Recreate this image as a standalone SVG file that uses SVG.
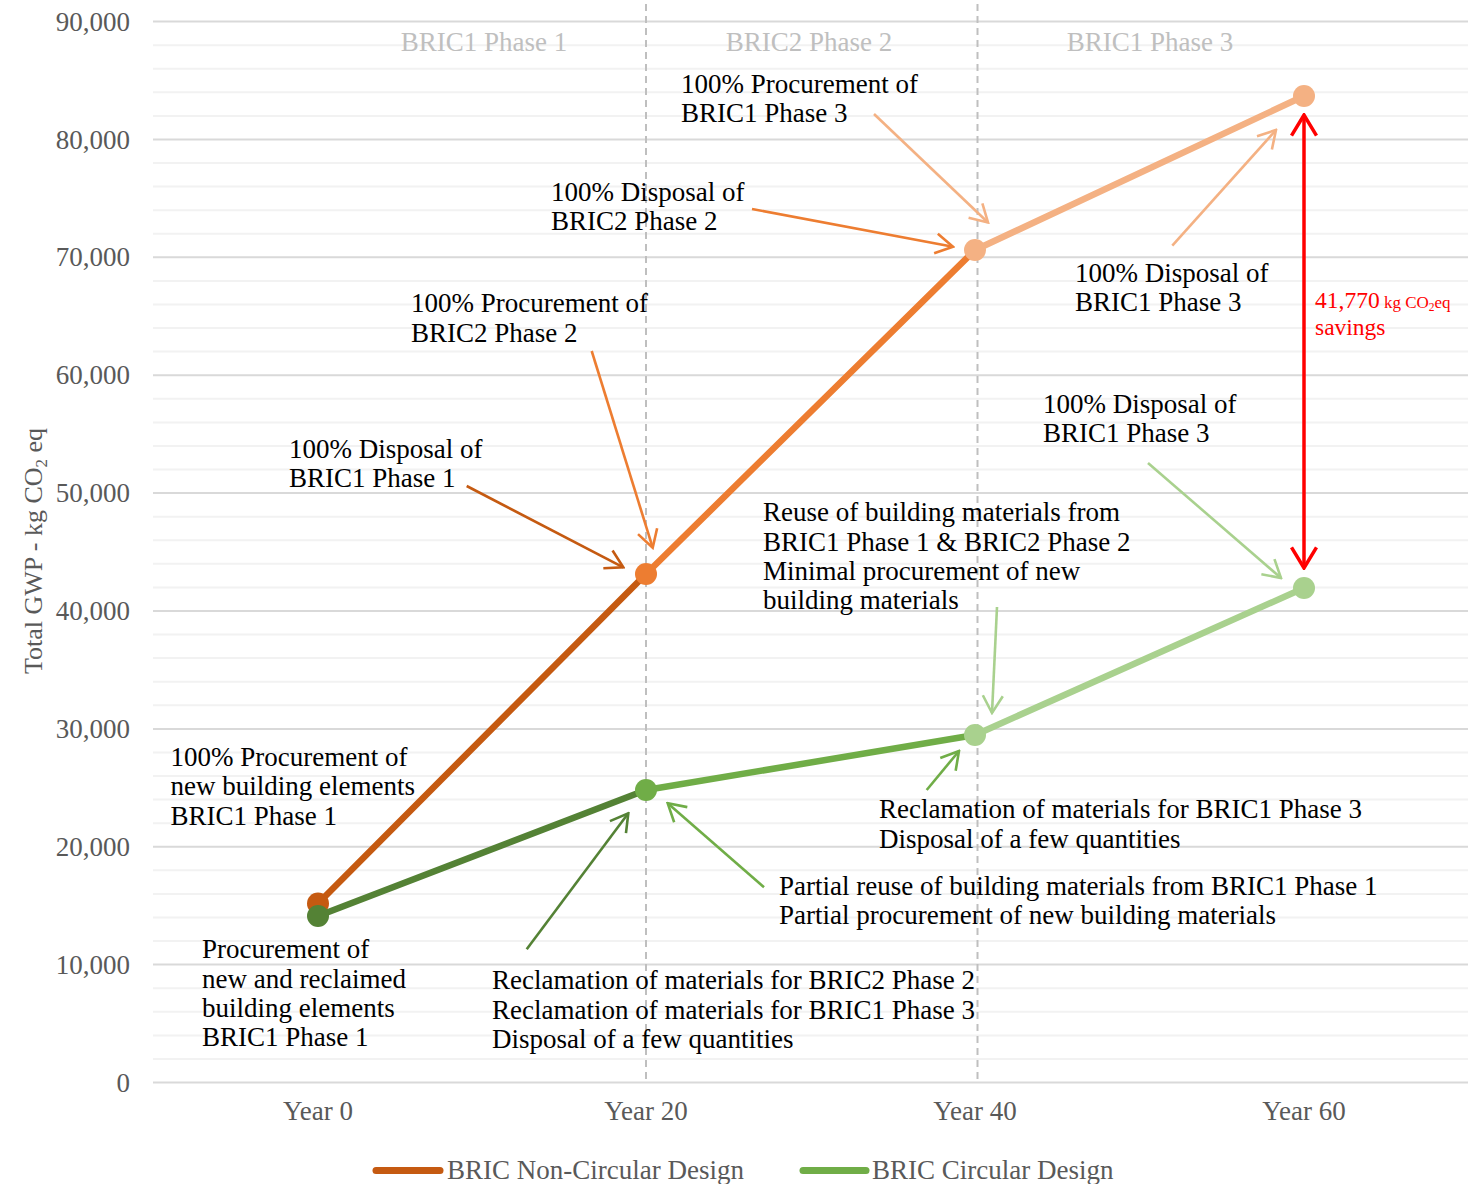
<svg xmlns="http://www.w3.org/2000/svg" width="1468" height="1184" viewBox="0 0 1468 1184">
<style>
text{font-family:"Liberation Serif","Times New Roman",serif;}
.tick{font-size:27px;fill:#595959;text-anchor:end;}
.xl{font-size:27px;fill:#595959;text-anchor:middle;}
.phase{font-size:27px;fill:#BFBFBF;text-anchor:middle;}
.ann{font-size:27px;fill:#000;}
.leg{font-size:27px;fill:#595959;}
.red{font-size:23.5px;fill:#FF0000;}
.conn{fill:none;stroke-width:2.6;}
.ser{fill:none;stroke-width:6.5;stroke-linecap:round;}
</style>
<defs>
<marker id="a-do" markerUnits="userSpaceOnUse" viewBox="-20 -12 22 24" refX="0" refY="0" markerWidth="22" markerHeight="24" orient="auto"><path d="M-17.3,-10 L0,0 L-17.3,10" fill="none" stroke="#C55A11" stroke-width="2.6"/></marker>
<marker id="a-o" markerUnits="userSpaceOnUse" viewBox="-20 -12 22 24" refX="0" refY="0" markerWidth="22" markerHeight="24" orient="auto"><path d="M-17.3,-10 L0,0 L-17.3,10" fill="none" stroke="#ED7D31" stroke-width="2.6"/></marker>
<marker id="a-lo" markerUnits="userSpaceOnUse" viewBox="-20 -12 22 24" refX="0" refY="0" markerWidth="22" markerHeight="24" orient="auto"><path d="M-17.3,-10 L0,0 L-17.3,10" fill="none" stroke="#F4B183" stroke-width="2.6"/></marker>
<marker id="a-dg" markerUnits="userSpaceOnUse" viewBox="-20 -12 22 24" refX="0" refY="0" markerWidth="22" markerHeight="24" orient="auto"><path d="M-17.3,-10 L0,0 L-17.3,10" fill="none" stroke="#548235" stroke-width="2.6"/></marker>
<marker id="a-g" markerUnits="userSpaceOnUse" viewBox="-20 -12 22 24" refX="0" refY="0" markerWidth="22" markerHeight="24" orient="auto"><path d="M-17.3,-10 L0,0 L-17.3,10" fill="none" stroke="#70AD47" stroke-width="2.6"/></marker>
<marker id="a-lg" markerUnits="userSpaceOnUse" viewBox="-20 -12 22 24" refX="0" refY="0" markerWidth="22" markerHeight="24" orient="auto"><path d="M-17.3,-10 L0,0 L-17.3,10" fill="none" stroke="#A9D18E" stroke-width="2.6"/></marker>
<marker id="a-r" markerUnits="userSpaceOnUse" viewBox="-24 -14 26 28" refX="0" refY="0" markerWidth="26" markerHeight="28" orient="auto-start-reverse"><path d="M-20.7,-12.5 L0,0 L-20.7,12.5" fill="none" stroke="#FF0000" stroke-width="3.5"/></marker>
</defs>
<rect width="1468" height="1184" fill="#fff"/>
<g id="grid">
<path stroke="#F2F2F2" stroke-width="2" fill="none" d="M153,1058.9H1468M153,1035.4H1468M153,1011.8H1468M153,988.2H1468M153,941H1468M153,917.5H1468M153,893.9H1468M153,870.3H1468M153,823.2H1468M153,799.6H1468M153,776H1468M153,752.4H1468M153,705.3H1468M153,681.7H1468M153,658.1H1468M153,634.6H1468M153,587.4H1468M153,563.8H1468M153,540.3H1468M153,516.7H1468M153,469.5H1468M153,446H1468M153,422.4H1468M153,398.8H1468M153,351.6H1468M153,328.1H1468M153,304.5H1468M153,280.9H1468M153,233.8H1468M153,210.2H1468M153,186.6H1468M153,163H1468M153,115.9H1468M153,92.3H1468M153,68.7H1468M153,45.2H1468"/>
<path stroke="#D9D9D9" stroke-width="2" fill="none" d="M153,1082.5H1468M153,964.6H1468M153,846.7H1468M153,728.9H1468M153,611H1468M153,493.1H1468M153,375.2H1468M153,257.3H1468M153,139.5H1468M153,21.6H1468"/>
<path stroke="#BFBFBF" stroke-width="2" stroke-dasharray="7,5" fill="none" d="M646,4V1084M977.5,4V1084"/>
</g>
<g id="axes">
<text class="tick" x="130" y="1091.5">0</text>
<text class="tick" x="130" y="973.6">10,000</text>
<text class="tick" x="130" y="855.7">20,000</text>
<text class="tick" x="130" y="737.9">30,000</text>
<text class="tick" x="130" y="620">40,000</text>
<text class="tick" x="130" y="502.1">50,000</text>
<text class="tick" x="130" y="384.2">60,000</text>
<text class="tick" x="130" y="266.3">70,000</text>
<text class="tick" x="130" y="148.5">80,000</text>
<text class="tick" x="130" y="30.6">90,000</text>
<text class="xl" x="318" y="1120">Year 0</text>
<text class="xl" x="646" y="1120">Year 20</text>
<text class="xl" x="975" y="1120">Year 40</text>
<text class="xl" x="1304" y="1120">Year 60</text>
<text transform="translate(42,551) rotate(-90)" style="font-size:26px;fill:#595959;text-anchor:middle">Total GWP - kg CO<tspan font-size="17" dy="5">2</tspan><tspan dy="-5"> eq</tspan></text>
<text class="phase" x="484" y="51">BRIC1 Phase 1</text>
<text class="phase" x="809" y="51">BRIC2 Phase 2</text>
<text class="phase" x="1150" y="51">BRIC1 Phase 3</text>
</g>
<g id="connectors">
<line class="conn" stroke="#F4B183" x1="874" y1="114" x2="988" y2="222.5" marker-end="url(#a-lo)"/>
<line class="conn" stroke="#ED7D31" x1="752" y1="209" x2="953" y2="246.7" marker-end="url(#a-o)"/>
<line class="conn" stroke="#F4B183" x1="1172.3" y1="245.7" x2="1276" y2="130" marker-end="url(#a-lo)"/>
<line class="conn" stroke="#ED7D31" x1="591.7" y1="351" x2="652.7" y2="547.7" marker-end="url(#a-o)"/>
<line class="conn" stroke="#C55A11" x1="466.7" y1="486" x2="623.3" y2="567.3" marker-end="url(#a-do)"/>
<line class="conn" stroke="#A9D18E" x1="1148" y1="463" x2="1281" y2="578" marker-end="url(#a-lg)"/>
<line class="conn" stroke="#A9D18E" x1="997" y1="607" x2="992" y2="713" marker-end="url(#a-lg)"/>
<line class="conn" stroke="#70AD47" x1="926.7" y1="790" x2="959" y2="751" marker-end="url(#a-g)"/>
<line class="conn" stroke="#70AD47" x1="764" y1="887.3" x2="667.7" y2="803.3" marker-end="url(#a-g)"/>
<line class="conn" stroke="#548235" x1="526.7" y1="949.3" x2="628.3" y2="813.3" marker-end="url(#a-dg)"/>
<line stroke="#FF0000" stroke-width="3.5" x1="1304" y1="115" x2="1304" y2="568" marker-start="url(#a-r)" marker-end="url(#a-r)"/>
</g>
<g id="series-noncircular">
<line class="ser" stroke="#C55A11" x1="318" y1="903.5" x2="646" y2="574"/>
<line class="ser" stroke="#ED7D31" x1="646" y1="574" x2="975" y2="250"/>
<line class="ser" stroke="#F4B183" x1="975" y1="250" x2="1304" y2="96"/>
<circle cx="318" cy="903.5" r="11" fill="#C55A11"/>
<circle cx="646" cy="574" r="11" fill="#ED7D31"/>
<circle cx="975" cy="250" r="11" fill="#F4B183"/>
<circle cx="1304" cy="96" r="11" fill="#F4B183"/>
</g>
<g id="series-circular">
<line class="ser" stroke="#548235" x1="318" y1="916" x2="646" y2="790"/>
<line class="ser" stroke="#70AD47" x1="646" y1="790" x2="975" y2="735"/>
<line class="ser" stroke="#A9D18E" x1="975" y1="735" x2="1304" y2="588"/>
<circle cx="318" cy="916" r="11" fill="#548235"/>
<circle cx="646" cy="790" r="11" fill="#70AD47"/>
<circle cx="975" cy="735" r="11" fill="#A9D18E"/>
<circle cx="1304" cy="588" r="11" fill="#A9D18E"/>
</g>
<g id="ann-proc-bric1-ph3"><text class="ann" x="681" y="92.5">100% Procurement of<tspan x="681" y="122">BRIC1 Phase 3</tspan></text></g>
<g id="ann-disp-bric2-ph2"><text class="ann" x="551" y="200.5">100% Disposal of<tspan x="551" y="230">BRIC2 Phase 2</tspan></text></g>
<g id="ann-disp-bric1-ph3-upper"><text class="ann" x="1075" y="281.5">100% Disposal of<tspan x="1075" y="310.7">BRIC1 Phase 3</tspan></text></g>
<g id="ann-proc-bric2-ph2"><text class="ann" x="411" y="312.3">100% Procurement of<tspan x="411" y="341.7">BRIC2 Phase 2</tspan></text></g>
<g id="ann-disp-bric1-ph1"><text class="ann" x="289" y="457.7">100% Disposal of<tspan x="289" y="486.7">BRIC1 Phase 1</tspan></text></g>
<g id="ann-disp-bric1-ph3-lower"><text class="ann" x="1043" y="413">100% Disposal of<tspan x="1043" y="442">BRIC1 Phase 3</tspan></text></g>
<g id="ann-reuse"><text class="ann" x="763" y="521">Reuse of building materials from<tspan x="763" y="550.5">BRIC1 Phase 1 &amp; BRIC2 Phase 2</tspan><tspan x="763" y="580">Minimal procurement of new</tspan><tspan x="763" y="609">building materials</tspan></text></g>
<g id="ann-proc-new"><text class="ann" x="170.5" y="765.7">100% Procurement of<tspan x="170.5" y="795">new building elements</tspan><tspan x="170.5" y="825">BRIC1 Phase 1</tspan></text></g>
<g id="ann-reclaim-right"><text class="ann" x="879" y="817.7">Reclamation of materials for BRIC1 Phase 3<tspan x="879" y="848">Disposal of a few quantities</tspan></text></g>
<g id="ann-partial"><text class="ann" x="779" y="895">Partial reuse of building materials from BRIC1 Phase 1<tspan x="779" y="924">Partial procurement of new building materials</tspan></text></g>
<g id="ann-proc-reclaimed"><text class="ann" x="202" y="958.3">Procurement of<tspan x="202" y="987.5">new and reclaimed</tspan><tspan x="202" y="1016.7">building elements</tspan><tspan x="202" y="1046">BRIC1 Phase 1</tspan></text></g>
<g id="ann-reclaim-bottom"><text class="ann" x="492" y="989">Reclamation of materials for BRIC2 Phase 2<tspan x="492" y="1018.5">Reclamation of materials for BRIC1 Phase 3</tspan><tspan x="492" y="1047.5">Disposal of a few quantities</tspan></text></g>
<g id="ann-savings"><text class="red" x="1315" y="308.3">41,770<tspan font-size="17"> kg CO</tspan><tspan font-size="11.5" dy="3">2</tspan><tspan font-size="17" dy="-3">eq</tspan><tspan x="1315" y="335">savings</tspan></text></g>
<g id="legend">
<line x1="376" y1="1170.5" x2="440" y2="1170.5" stroke="#C55A11" stroke-width="7" stroke-linecap="round"/>
<text class="leg" x="447" y="1179">BRIC Non-Circular Design</text>
<line x1="803" y1="1170.5" x2="866" y2="1170.5" stroke="#70AD47" stroke-width="7" stroke-linecap="round"/>
<text class="leg" x="872" y="1179">BRIC Circular Design</text>
</g>
</svg>
